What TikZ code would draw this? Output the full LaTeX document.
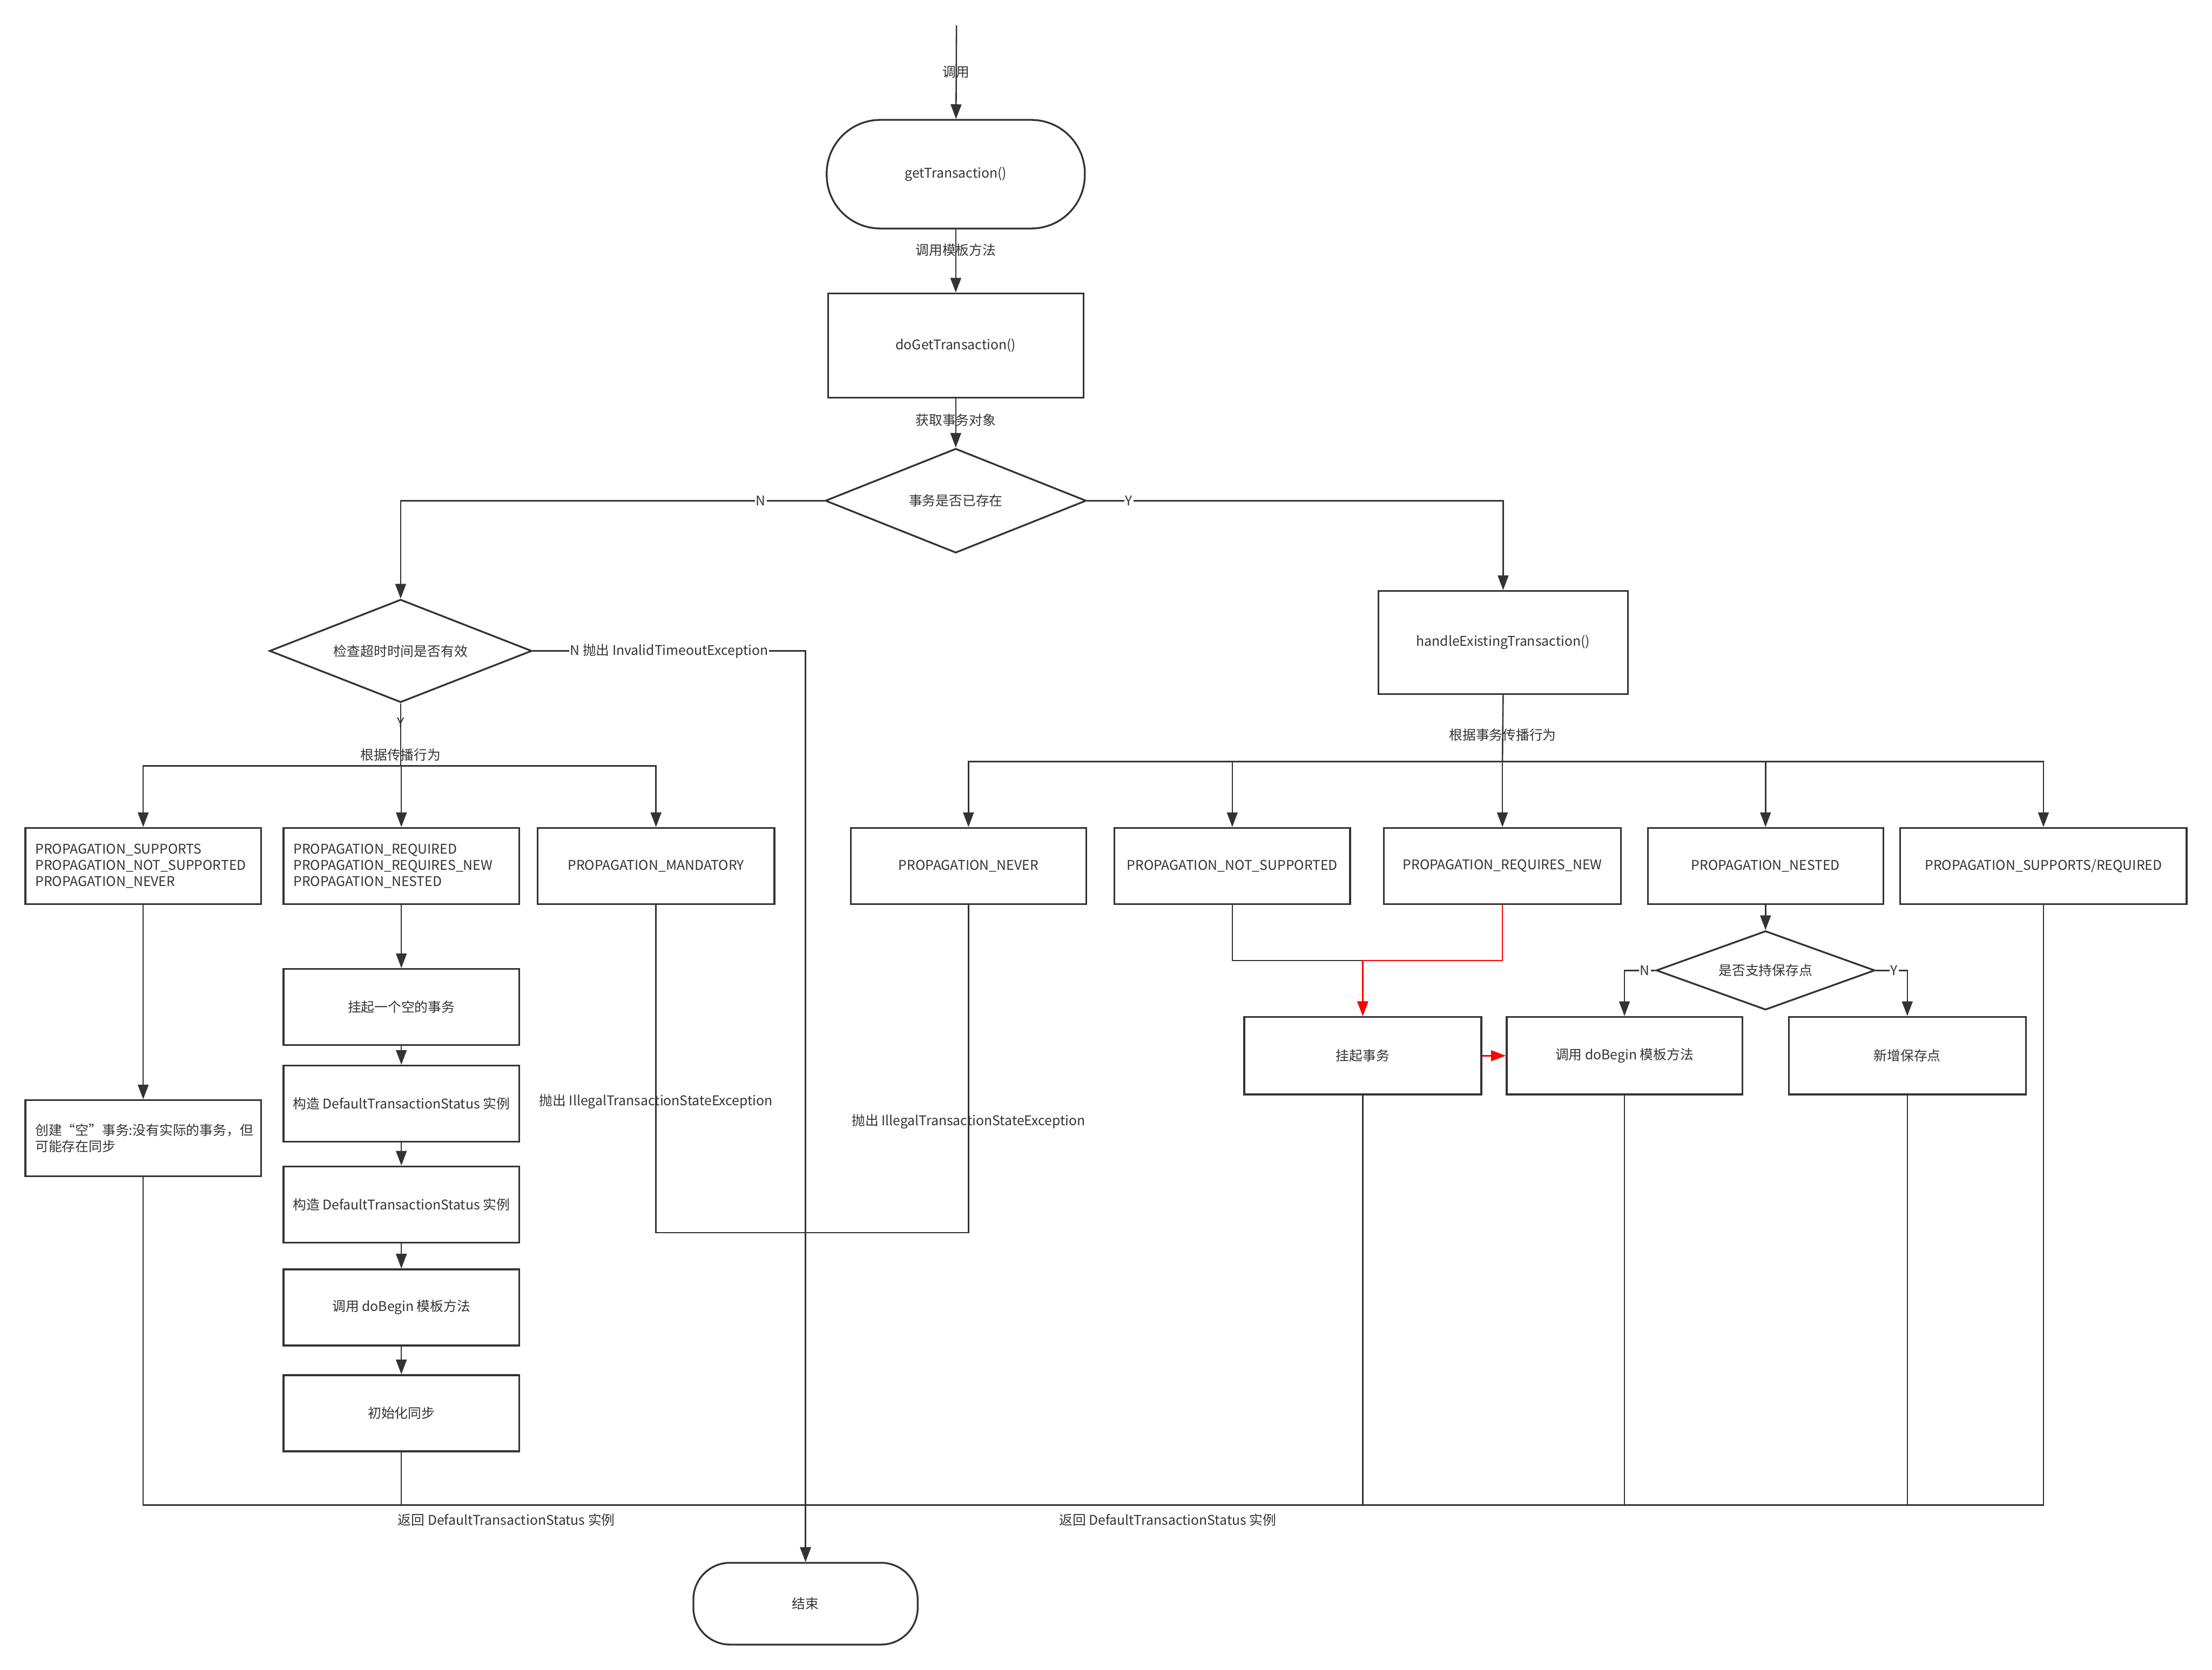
\documentclass[tikz,border=0pt]{standalone}
\usepackage{fontspec}
\setmainfont{Noto Sans CJK SC}
\usetikzlibrary{arrows.meta,shapes.geometric}
\definecolor{ink}{HTML}{333333}
\definecolor{hot}{HTML}{FF0000}
\begin{document}
\begin{tikzpicture}[x=0.05cm,y=-0.05cm,
	box/.style={draw=ink,line width=1.8pt,text=ink,align=center,inner sep=0pt,minimum width=8.35cm,minimum height=2.7cm},
	multi/.style={box,text width=7.65cm,align=left},
	term/.style={box,rounded corners=1.9cm},
	ask/.style={draw=ink,line width=1.8pt,text=ink,diamond,aspect=2.5,inner sep=0pt},
	link/.style={draw=ink,line width=1.4pt},
	flow/.style={link,-{Triangle[length=0.52cm,width=0.38cm]}},
	tag/.style={text=ink,inner sep=1pt},
	cut/.style={tag,fill=white},
	font=\fontsize{13.5pt}{16.5pt}\selectfont]
\useasboundingbox[fill=white] (0,0) rectangle (1568,1184);
% main line
\node[term,minimum width=9.15cm,minimum height=3.85cm] (gettx) at (677.5,123.5) {getTransaction()};
\node[box,minimum width=9.05cm,minimum height=3.7cm] (dogettx) at (677.5,245) {doGetTransaction()};
\node[ask,minimum width=9.25cm,minimum height=3.7cm] (exists) at (677.5,355) {事务是否已存在};
\node[box,minimum width=8.85cm,minimum height=3.65cm] (handletx) at (1065.5,455.5) {handleExistingTransaction()};
\node[ask,minimum width=9.3cm,minimum height=3.65cm] (timeout) at (284,461.5) {检查超时时间是否有效};
% no transaction yet
\node[multi] (supports) at (101.5,614) {PROPAGATION\_SUPPORTS\\PROPAGATION\_NOT\_SUPPORTED\\PROPAGATION\_NEVER};
\node[multi] (required) at (284.5,614) {PROPAGATION\_REQUIRED\\PROPAGATION\_REQUIRES\_NEW\\PROPAGATION\_NESTED};
\node[box,minimum width=8.4cm] (mandatory) at (465,614) {PROPAGATION\_MANDATORY};
\node[multi] (emptytx) at (101.5,807) {创建“空”事务:没有实际的事务，但\\可能存在同步};
\node[box] (suspendnull) at (284.5,714) {挂起一个空的事务};
\node[box] (buildone) at (284.5,782.5) {构造 DefaultTransactionStatus 实例};
\node[box] (buildtwo) at (284.5,854) {构造 DefaultTransactionStatus 实例};
\node[box] (beginone) at (284.5,927) {调用 doBegin 模板方法};
\node[box] (initsync) at (284.5,1002) {初始化同步};
% existing transaction
\node[box] (never) at (686.5,614) {PROPAGATION\_NEVER};
\node[box] (notsupported) at (873.5,614) {PROPAGATION\_NOT\_SUPPORTED};
\node[box,minimum width=8.4cm] (requiresnew) at (1065,614) {PROPAGATION\_REQUIRES\_NEW};
\node[box] (nested) at (1251.5,614) {PROPAGATION\_NESTED};
\node[box,minimum width=10.15cm] (supportsreq) at (1448.5,614) {PROPAGATION\_SUPPORTS/REQUIRED};
\node[ask,minimum width=7.75cm,minimum height=2.8cm] (savepoint) at (1251.5,688) {是否支持保存点};
\node[box,minimum width=8.4cm,minimum height=2.75cm] (suspend) at (966,748.5) {挂起事务};
\node[box,minimum height=2.75cm] (begintwo) at (1151.5,748.5) {调用 doBegin 模板方法};
\node[box,minimum width=8.4cm,minimum height=2.75cm] (newsave) at (1352,748.5) {新增保存点};
\node[term,minimum width=7.95cm,minimum height=2.9cm,rounded corners=1.3cm] (finish) at (571,1137) {结束};
% junction points
\coordinate (entry) at (678,18);
\coordinate (lsplit) at (284,543);
\coordinate (rsplit) at (1065,540);
\coordinate (timeoutturn) at (571,461.5);
\coordinate (throwjoin) at (571,874);
\coordinate (susjoin) at (966,681);
\coordinate (retjoin) at (571,1067);
% connectors
\draw[flow] (entry) -- node[tag]{调用} (gettx);
\draw[flow] (gettx) -- node[pos=0.33,tag]{调用模板方法} (dogettx);
\draw[flow] (dogettx) -- node[pos=0.44,tag]{获取事务对象} (exists);
\draw[flow] (exists.west) -| node[pos=0.075,cut]{N} (timeout.north);
\draw[flow] (exists.east) -| node[pos=0.05,cut]{Y} (handletx.north);
\draw[flow] (timeout.east) -- node[cut]{N 抛出 InvalidTimeoutException} (timeoutturn) -- (finish.north);
\draw[link] (timeout.south) -- node[pos=0.31,tag]{Y} node[pos=0.82,tag]{根据传播行为} (lsplit);
\foreach \n in {supports,required,mandatory} \draw[flow] (lsplit) -| (\n.north);
\draw[link] (handletx.south) -- node[pos=0.6,tag]{根据事务传播行为} (rsplit);
\foreach \n in {never,notsupported,requiresnew,nested,supportsreq} \draw[flow] (rsplit) -| (\n.north);
\draw[flow] (supports) -- (emptytx);
\foreach \a/\b in {required/suspendnull,suspendnull/buildone,buildone/buildtwo,buildtwo/beginone,beginone/initsync}
	\draw[flow] (\a) -- (\b);
\draw[link] (mandatory.south) |- node[pos=0.3,tag]{抛出 IllegalTransactionStateException} (throwjoin)
	-| node[pos=0.67,tag]{抛出 IllegalTransactionStateException} (never.south);
\draw[flow] (nested) -- (savepoint);
\draw[flow] (savepoint.west) -| node[pos=0.17,cut]{N} (begintwo.north);
\draw[flow] (savepoint.east) -| node[pos=0.29,cut]{Y} (newsave.north);
\draw[flow] (notsupported.south) |- (susjoin) -- (suspend.north);
\draw[flow,draw=hot] (requiresnew.south) |- (susjoin) -- (suspend.north);
\draw[flow,draw=hot] (suspend) -- (begintwo);
% return
\draw[link] (emptytx.south) |- (retjoin);
\draw[link] (initsync.south) |- node[pos=0.63,below=0.25cm,tag]{返回 DefaultTransactionStatus 实例} (retjoin);
\draw[link] (suspend.south) |- node[pos=0.675,below=0.25cm,tag]{返回 DefaultTransactionStatus 实例} (retjoin);
\foreach \n in {begintwo,newsave,supportsreq} \draw[link] (\n.south) |- (retjoin);
\draw[flow] (retjoin) -- (finish.north);
\end{tikzpicture}
\end{document}
